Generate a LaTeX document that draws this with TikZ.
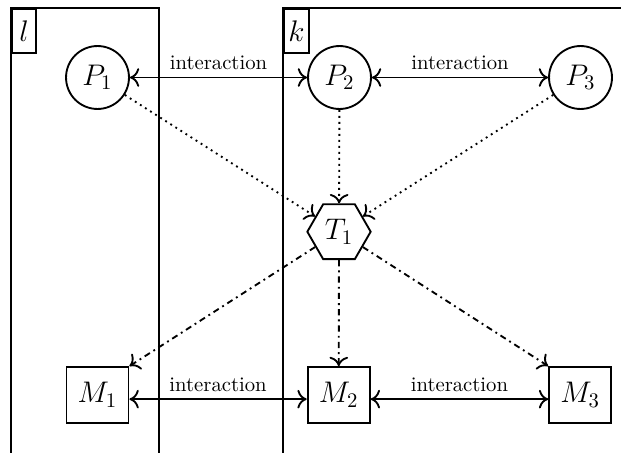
\documentclass[tikz,border=0pt]{standalone}
\usetikzlibrary{shapes.geometric,arrows.meta}
\begin{document}
\begin{tikzpicture}[x=0.483pt,y=-0.483pt,
  line width=0.9pt,
  >={Computer Modern Rightarrow[length=4.5pt,width=9pt]},
  pnode/.style={circle,draw,minimum size=30.4pt,inner sep=0pt,font=\Large},
  mnode/.style={rectangle,draw,minimum width=30pt,minimum height=27pt,inner sep=0pt,font=\Large},
  tnode/.style={regular polygon,regular polygon sides=6,draw,minimum size=30.6pt,inner sep=0pt,font=\Large},
  tagbox/.style={draw,minimum width=11.8pt,minimum height=21pt,inner sep=0pt,anchor=north west,font=\Large},
  inter/.style={<->},
  feed/.style={->,dotted},
  dispatch/.style={->,dash dot}]
\useasboundingbox (0,0) rectangle (621,452);
\clip (0,0) rectangle (621,452);
% frames
\draw (11,470) -- (11,8.3) -- (159.3,8.3) -- (159.3,470);
\draw (283.3,470) -- (283.3,8.3) -- (640,8.3);
\node[tagbox] (tagl) at (11,8.3) {$l$};
\node[tagbox] (tagk) at (283.3,8.3) {$k$};
% nodes
\node[pnode] (P1) at (97.5,77.5) {$P_1$};
\node[pnode] (P2) at (339.5,77.5) {$P_2$};
\node[pnode] (P3) at (580.5,77.5) {$P_3$};
\node[tnode] (T1) at (339,231.7) {$T_1$};
\node[mnode] (M1) at (97.5,395) {$M_1$};
\node[mnode] (M2) at (338.7,395) {$M_2$};
\node[mnode] (M3) at (580.2,395) {$M_3$};
% interactions
\draw[inter] (P1) -- node[above] {interaction} (P2);
\draw[inter] (P2) -- node[above] {interaction} (P3);
\draw[inter] ([yshift=-2pt]M1.east) -- node[above] {interaction} ([yshift=-2pt]M2.west);
\draw[inter] ([yshift=-2pt]M2.east) -- node[above] {interaction} ([yshift=-2pt]M3.west);
% feeds
\draw[feed] (P1) -- (T1);
\draw[feed] (P2) -- (T1);
\draw[feed] (P3) -- (T1);
\draw[dispatch] (T1) -- (M1.north east);
\draw[dispatch] (T1) -- (M2);
\draw[dispatch] (T1) -- (M3.north west);
\end{tikzpicture}
\end{document}
